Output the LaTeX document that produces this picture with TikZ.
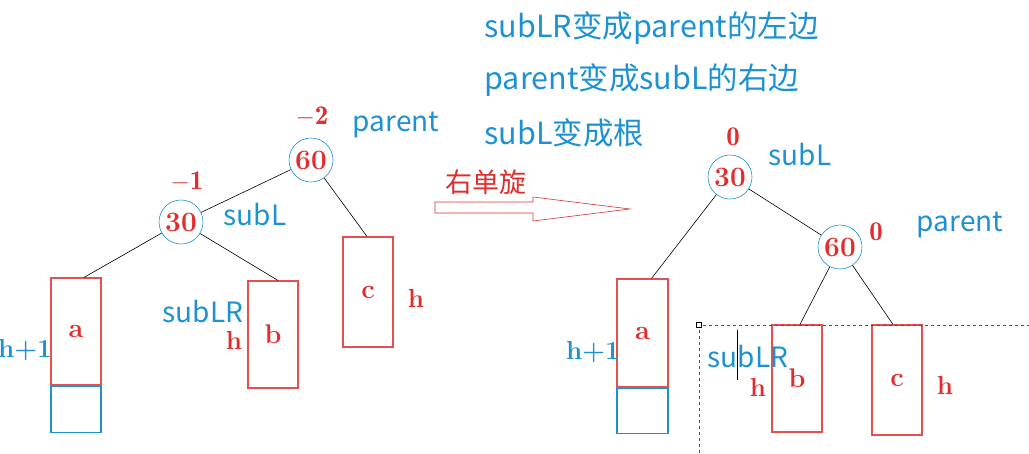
\documentclass[tikz,border=0pt]{standalone}
\usepackage{fontspec}
\newfontfamily\cjk{Noto Sans CJK SC}
\definecolor{bleu}{RGB}{30,145,210}
\definecolor{rouge}{RGB}{225,45,45}
\definecolor{rougeclair}{RGB}{228,80,80}
\tikzset{
	noeud/.style={circle,draw=bleu,semithick,minimum size=44pt,inner sep=0pt,text=rouge,font=\bfseries\fontsize{28}{28}\selectfont},
	sousarbre/.style={draw=rougeclair,line width=1.1pt,minimum width=50pt,minimum height=107pt,inner sep=0pt,text=rouge,font=\bfseries\fontsize{27}{27}\selectfont},
	surplus/.style={draw=bleu,line width=1.1pt,minimum width=50pt,minimum height=46pt,inner sep=0pt},
	nom/.style={text=bleu,font=\cjk\fontsize{28}{28}\selectfont},
	facteur/.style={text=rouge,font=\bfseries\fontsize{27}{27}\selectfont},
	hauteur/.style={font=\bfseries\fontsize{26}{26}\selectfont},
	arete/.style={black,semithick}
}
\begin{document}
\begin{tikzpicture}[x=1pt,y=-1pt]
	\useasboundingbox (0,0) rectangle (1029,453);
%
% Texte en haut
	\node[nom,anchor=west,font=\cjk\fontsize{30.5}{30.5}\selectfont] (ligneA) at (481,28) {subLR变成parent的左边};
	\node[nom,anchor=west,font=\cjk\fontsize{30.5}{30.5}\selectfont] (ligneB) at (481,80) {parent变成subL的右边};
	\node[nom,anchor=west,font=\cjk\fontsize{30.5}{30.5}\selectfont] (ligneC) at (481,133) {subL变成根};
%
% Arbre avant rotation
	\node[noeud] (pA) at (311,160) {60};
	\node[noeud] (sA) at (181,222) {30};
	\node[sousarbre] (aA) at (76,331.5) {a};
	\node[surplus,anchor=north] (eA) at (aA.south) {};
	\node[sousarbre] (bA) at (273,334.5) {b};
	\node[sousarbre,minimum height=110pt] (cA) at (368,292) {c};
	\draw[arete] (pA) -- (sA);
	\draw[arete] (sA) -- ([xshift=8pt]aA.north);
	\draw[arete] (sA) -- ([xshift=5pt]bA.north);
	\draw[arete] (pA) -- ([xshift=-1pt]cA.north);
	\node[facteur] (fpA) at (312,117) {$\mathbf{-2}$};
	\node[nom] (npA) at (396,125) {parent};
	\node[facteur] (fsA) at (187,182) {$\mathbf{-1}$};
	\node[nom] (nsA) at (255,215) {subL};
	\node[nom] (nrA) at (203,312) {subLR};
	\node[hauteur,text=rouge] (hbA) at (234,340) {h};
	\node[hauteur,text=bleu] (haA) at (25,350) {h+1};
	\node[hauteur,text=rouge] (hcA) at (416,298) {h};
%
% Fleche creuse
	\draw[rouge,semithick] (435,202) -- (533,202) -- (533,197) -- (630,209) -- (533,221) -- (533,213) -- (435,213) -- cycle;
	\node[text=rouge,font=\cjk\fontsize{27}{27}\selectfont] (rot) at (486,182) {右单旋};
%
% Arbre apres rotation
	\node[noeud] (sB) at (730,177) {30};
	\node[noeud] (pB) at (840,247) {60};
	\node[sousarbre,minimum width=51pt,minimum height=108pt] (aB) at (642.5,333) {a};
	\node[surplus,minimum width=51pt,minimum height=45pt,anchor=north] (eB) at (aB.south) {};
	\node[sousarbre] (bB) at (797,378.5) {b};
	\node[sousarbre,minimum height=110pt] (cB) at (897,380) {c};
	\draw[arete] (sB) -- ([xshift=9pt]aB.north);
	\draw[arete] (sB) -- (pB);
	\draw[arete] (pB) -- ([xshift=3pt]bB.north);
	\draw[arete] (pB) -- ([xshift=-4pt]cB.north);
	\node[facteur] (fsB) at (733,137) {$\mathbf{0}$};
	\node[nom] (nsB) at (800,155) {subL};
	\node[facteur] (fpB) at (876,232) {$\mathbf{0}$};
	\node[nom] (npB) at (960,225) {parent};
	\node[hauteur,text=bleu] (haB) at (593,352) {h+1};
	\node[hauteur,text=rouge] (hbB) at (758,387) {h};
	\node[hauteur,text=rouge] (hcB) at (945,385) {h};
%
% Cadre de selection
	\coordinate (coin) at (699,325);
	\draw[bleu!70!black,dashed,thin] (699,453) -- (coin) -- (1029,325);
	\draw[black,very thin,fill=white] ([shift={(-2.5,-2.5)}]coin) rectangle ([shift={(2.5,2.5)}]coin);
	\node[nom] (nrB) at (748,357) {subLR};
	\draw[black,thin] (737,330) -- (737,380);
\end{tikzpicture}
\end{document}
